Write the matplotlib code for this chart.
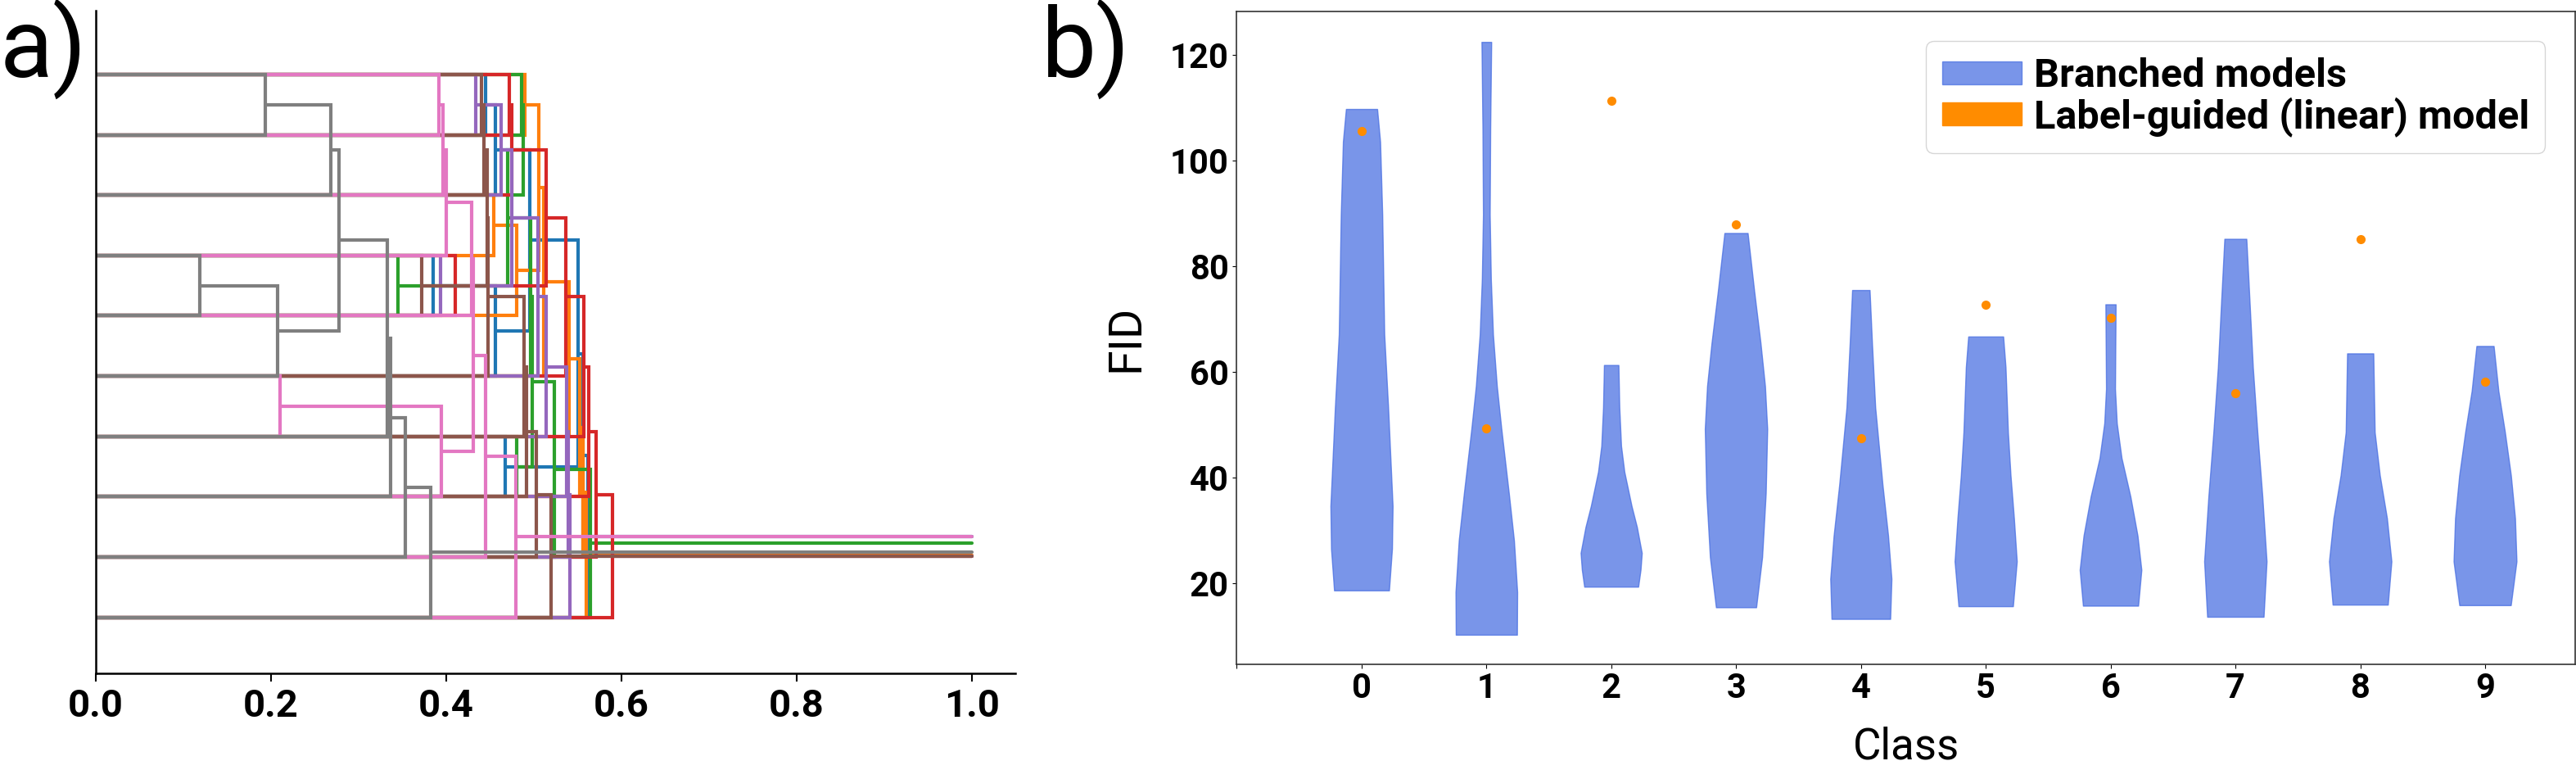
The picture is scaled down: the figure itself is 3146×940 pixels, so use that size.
import numpy as np
import matplotlib
matplotlib.use("Agg")
import matplotlib.pyplot as plt
from matplotlib.patches import Patch

plt.rcParams['font.family'] = ['Roboto', 'DejaVu Sans']

# ---------------- panel a: dendrograms (merges: child_a, child_b, distance) -------------
n_leaves = 10
tree_colors = ['tab:blue', 'tab:orange', 'tab:green', 'tab:red',
               'tab:purple', 'tab:brown', 'tab:pink', 'tab:gray']
blue_merges = [(0, 1, 0.4447), (10, 2, 0.4562), (3, 4, 0.3853), (12, 5, 0.4562),
               (11, 13, 0.495), (6, 7, 0.467), (14, 15, 0.5508), (16, 8, 0.556), (17, 9, 0.562)]
orange_merges = [(0, 1, 0.49), (2, 3, 0.4546), (11, 4, 0.48), (10, 12, 0.5058),
                 (13, 5, 0.511), (14, 6, 0.540), (15, 7, 0.552), (16, 8, 0.556), (17, 9, 0.560)]
green_merges = [(0, 1, 0.4857), (10, 2, 0.4875), (3, 4, 0.3444), (11, 12, 0.4701),
                (13, 5, 0.4965), (6, 7, 0.48), (14, 15, 0.498), (16, 8, 0.523), (17, 9, 0.5648)]
red_merges = [(0, 1, 0.4716), (10, 2, 0.4747), (3, 4, 0.4105), (11, 12, 0.5136),
              (13, 5, 0.5369), (14, 6, 0.5571), (15, 7, 0.5626), (16, 8, 0.5707), (17, 9, 0.5897)]
purple_merges = [(0, 1, 0.4338), (10, 2, 0.4624), (3, 4, 0.3934), (11, 12, 0.4748),
                 (13, 5, 0.5043), (14, 6, 0.5136), (15, 7, 0.537), (16, 8, 0.539), (17, 9, 0.541)]
brown_merges = [(0, 1, 0.4406), (10, 2, 0.4428), (3, 4, 0.3717), (11, 12, 0.4469),
                (13, 5, 0.4479), (14, 6, 0.4887), (15, 7, 0.4918), (16, 8, 0.5027), (17, 9, 0.5198)]
pink_merges = [(0, 1, 0.3916), (10, 2, 0.3966), (11, 3, 0.4003), (12, 4, 0.4285),
               (5, 6, 0.2098), (14, 7, 0.394), (13, 15, 0.4305), (16, 8, 0.4453), (17, 9, 0.4795)]
gray_merges = [(0, 1, 0.193), (10, 2, 0.268), (3, 4, 0.1186), (12, 5, 0.2077),
               (11, 13, 0.278), (14, 6, 0.333), (15, 7, 0.3367), (16, 8, 0.3537), (17, 9, 0.382)]
all_merges = [blue_merges, orange_merges, green_merges, red_merges,
              purple_merges, brown_merges, pink_merges, gray_merges]
root_end = 1.0
x_ticks_a = [0.0, 0.2, 0.4, 0.6, 0.8, 1.0]

# ---------------- panel b: violins -------------------------------------------------------
classes = list(range(10))
fid_levels = [
    [18.6, 26.5, 34.6, 53.3, 67.1, 89.8, 103.6, 109.8],
    [10.2, 18.3, 28.1, 37.0, 49.2, 57.3, 67.1, 77.6, 89.8, 106.0, 122.5],
    [19.3, 22.5, 25.7, 30.6, 34.6, 41.1, 46.0, 53.3, 61.3],
    [15.4, 24.9, 37.0, 49.2, 57.3, 65.5, 75.2, 86.3],
    [13.2, 20.8, 29.0, 38.7, 53.3, 65.5, 75.5],
    [15.6, 24.1, 32.3, 40.4, 48.6, 60.9, 66.7],
    [15.7, 22.5, 29.0, 36.4, 43.7, 50.3, 56.8, 72.8],
    [13.6, 24.1, 36.4, 48.6, 60.9, 73.2, 85.2],
    [15.9, 24.1, 32.3, 40.4, 48.6, 63.5],
    [15.8, 24.1, 32.3, 40.4, 48.6, 56.4, 64.9],
]
fid_density = [
    [0.22, 0.244, 0.249, 0.213, 0.182, 0.166, 0.149, 0.125],
    [0.245, 0.247, 0.221, 0.18, 0.12, 0.084, 0.053, 0.036, 0.027, 0.031, 0.039],
    [0.216, 0.235, 0.245, 0.206, 0.163, 0.105, 0.079, 0.065, 0.058],
    [0.161, 0.209, 0.238, 0.25, 0.232, 0.196, 0.146, 0.093],
    [0.235, 0.245, 0.218, 0.173, 0.115, 0.089, 0.070],
    [0.218, 0.249, 0.226, 0.199, 0.178, 0.159, 0.14],
    [0.221, 0.247, 0.216, 0.159, 0.088, 0.05, 0.036, 0.041],
    [0.226, 0.25, 0.216, 0.176, 0.14, 0.114, 0.088],
    [0.221, 0.25, 0.214, 0.157, 0.116, 0.105],
    [0.206, 0.252, 0.24, 0.207, 0.159, 0.107, 0.069],
]
linear_fid = [105.6, 49.3, 111.3, 87.9, 47.4, 72.7, 70.3, 56.0, 85.2, 58.1]
y_ticks_b = [20, 40, 60, 80, 100, 120]
legend_labels = ['Branched models', 'Label-guided (linear) model']

# ------------------------------------------------------------------------------------------
fig = plt.figure(figsize=(31.46, 9.40), dpi=100)

# ---- panel a
axa = fig.add_axes([0.0372, 0.1255, 0.3571, 0.8605])
for color, merges in zip(tree_colors, all_merges):
    nodes = {i: (0.0, float(i)) for i in range(n_leaves)}
    for k, (a, b, d) in enumerate(merges):
        xa, ya = nodes[a]
        xb, yb = nodes[b]
        axa.plot([xa, d, d, xb], [ya, ya, yb, yb], color=color, lw=3.0,
                 solid_capstyle='butt', solid_joinstyle='miter')
        nodes[n_leaves + k] = (d, (ya + yb) / 2.0)
    xr, yr = nodes[n_leaves + len(merges) - 1]
    axa.plot([xr, root_end], [yr, yr], color=color, lw=3.0, solid_capstyle='round')

axa.set_xlim(0, 1.05)
axa.set_ylim(9.927, -1.055)
axa.set_xticks(x_ticks_a)
axa.set_xticklabels([f'{t:.1f}' for t in x_ticks_a], fontsize=34, fontweight='bold')
axa.set_yticks([])
axa.spines['top'].set_visible(False)
axa.spines['right'].set_visible(False)
axa.spines['left'].set_linewidth(1.8)
axa.spines['bottom'].set_linewidth(1.8)
axa.tick_params(axis='x', length=7, width=1.5, pad=6)

# ---- panel b
axb = fig.add_axes([0.4801, 0.1375, 0.5195, 0.8476])
vpstats = []
for lev, dens in zip(fid_levels, fid_density):
    vpstats.append(dict(coords=np.array(lev), vals=np.array(dens),
                        mean=np.mean(lev), median=np.median(lev),
                        min=min(lev), max=max(lev)))
parts = axb.violin(vpstats, positions=classes,
                   widths=[2 * max(d) for d in fid_density],
                   showmeans=False, showextrema=False, showmedians=False)
for body in parts['bodies']:
    body.set_facecolor('royalblue')
    body.set_edgecolor('royalblue')
    body.set_alpha(0.7)
    body.set_linewidth(1.0)

axb.plot(classes, linear_fid, 'o', color='darkorange', ms=7, zorder=3)

axb.set_xlim(-1, 9.72)
axb.set_ylim(4.64, 128.27)
axb.set_xticks([-1] + classes)
axb.set_xticklabels([''] + [str(c) for c in classes], fontsize=30, fontweight='bold')
axb.set_yticks(y_ticks_b)
axb.set_yticklabels([str(t) for t in y_ticks_b], fontsize=30, fontweight='bold')
axb.set_xlabel('Class', fontsize=38, labelpad=18)
axb.set_ylabel('FID', fontsize=40, labelpad=20)
for sp in axb.spines.values():
    sp.set_linewidth(1.2)
    sp.set_color('0.2')

handles = [Patch(facecolor='royalblue', alpha=0.7, edgecolor='royalblue'),
           Patch(facecolor='darkorange', edgecolor='darkorange')]
axb.legend(handles, legend_labels, loc='upper right', prop={'size': 35, 'weight': 'bold'},
           borderaxespad=0.75, labelspacing=0.05, handlelength=2.0, handleheight=0.5,
           handletextpad=0.3)

fig.text(0.0, 0.9, 'a)', fontsize=86, ha='left', va='baseline')
fig.text(0.4043, 0.9, 'b)', fontsize=86, ha='left', va='baseline')

fig.savefig('out.png', dpi=100)
